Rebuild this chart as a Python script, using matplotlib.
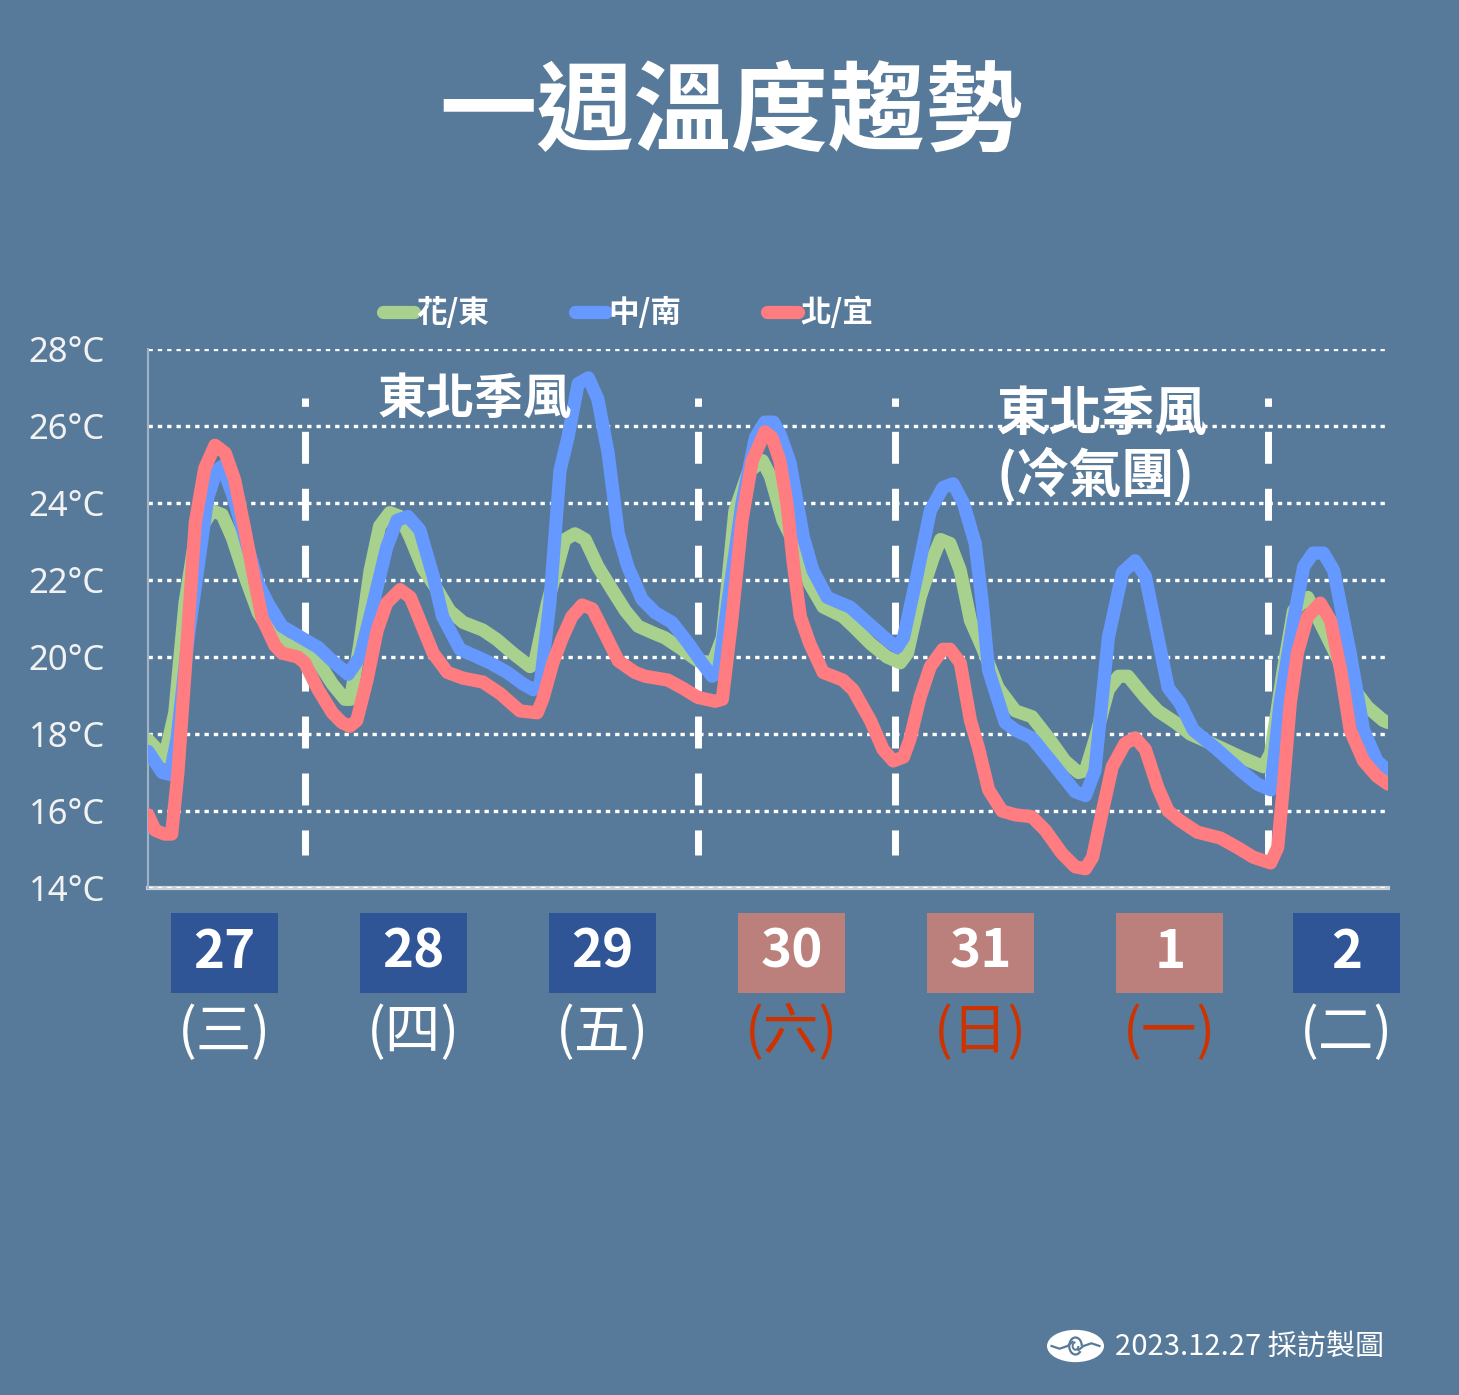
import numpy as np
import matplotlib
matplotlib.use("Agg")
import matplotlib.pyplot as plt
import matplotlib.transforms as mtransforms
from matplotlib.patches import Rectangle, Ellipse, Arc

plt.rcParams['font.family'] = ['Noto Sans CJK TC', 'DejaVu Sans']

# hours counted from 27th 00:00, temperatures in degC
green_pts = [(2.3, 17.85), (4.4, 17.4), (5.7, 18.55), (7.0, 21.4), (8.3, 23.1), (10.4, 23.8), (11.7, 23.7),
             (13.0, 23.1), (14.6, 22.1), (16.3, 21.15), (18.0, 20.6), (19.7, 20.35), (21.8, 20.2), (23.5, 20.0),
             (25.7, 19.3), (27.3, 18.9), (28.0, 18.9), (29.2, 20.35), (30.5, 22.25), (31.7, 23.4), (33.0, 23.75),
             (34.3, 23.65), (35.6, 23.1), (37.2, 22.3), (39.0, 21.75), (40.6, 21.2), (42.3, 20.9), (44.8, 20.7),
             (46.6, 20.45), (48.6, 20.1), (50.8, 19.75), (51.4, 19.85), (53.0, 21.4), (55.2, 23.05), (56.5, 23.2),
             (57.8, 23.05), (59.4, 22.35), (61.2, 21.75), (62.9, 21.2), (64.5, 20.8), (66.7, 20.6), (67.9, 20.5),
             (70.1, 20.2), (72.1, 19.9), (74.0, 19.85), (75.2, 20.5), (76.8, 23.8), (78.5, 24.8), (80.3, 25.1),
             (81.3, 24.7), (82.9, 23.55), (84.7, 22.8), (86.3, 21.9), (88.0, 21.3), (90.5, 21.05), (91.8, 20.8),
             (94.0, 20.35), (96.1, 20.0), (97.8, 19.85), (98.7, 20.1), (100.3, 21.55), (102.0, 22.6), (102.9, 23.05),
             (104.1, 22.95), (105.4, 22.25), (106.7, 20.95), (108.2, 20.25), (110.2, 19.2), (112.4, 18.6),
             (114.5, 18.45), (116.6, 17.9), (118.7, 17.3), (120.4, 17.0), (121.3, 17.05), (122.5, 17.85),
             (124.2, 19.15), (125.5, 19.5), (126.7, 19.5), (128.9, 18.95), (130.5, 18.6), (132.7, 18.3),
             (134.6, 18.0), (138.4, 17.65), (141.0, 17.4), (143.9, 17.15), (144.8, 17.5), (146.4, 19.65),
             (147.7, 21.2), (149.5, 21.55), (150.7, 21.05), (152.4, 20.35), (154.9, 19.3), (157.1, 18.7),
             (159.1, 18.35), (159.7, 18.3)]

blue_pts = [(2.3, 17.55), (4.1, 17.0), (5.1, 16.95), (6.0, 17.9), (7.4, 20.5), (8.9, 22.7), (9.9, 24.15),
            (11.0, 24.85), (11.7, 24.95), (13.0, 24.25), (14.6, 23.1), (16.3, 21.9), (17.5, 21.4), (19.3, 20.8),
            (22.2, 20.45), (23.9, 20.25), (25.7, 19.9), (27.7, 19.55), (29.2, 20.0), (30.9, 21.4), (32.6, 22.85),
            (33.9, 23.55), (35.3, 23.65), (36.8, 23.3), (38.5, 22.1), (39.7, 21.05), (41.9, 20.2), (44.1, 20.0),
            (45.7, 19.85), (47.9, 19.6), (49.9, 19.3), (51.2, 19.15), (52.1, 19.3), (53.3, 21.4), (54.6, 24.85),
            (55.6, 25.7), (56.9, 27.1), (58.2, 27.25), (59.4, 26.7), (60.7, 25.3), (62.0, 23.2), (63.2, 22.35),
            (65.0, 21.5), (66.7, 21.15), (68.8, 20.9), (70.9, 20.35), (72.6, 19.85), (73.9, 19.5), (74.7, 19.6),
            (75.9, 21.4), (77.7, 24.0), (79.4, 25.7), (80.6, 26.1), (81.7, 26.1), (82.5, 25.8), (83.8, 25.05),
            (85.5, 23.1), (86.7, 22.25), (88.5, 21.55), (90.2, 21.4), (91.4, 21.3), (93.6, 20.9), (96.1, 20.45),
            (97.4, 20.25), (98.2, 20.5), (99.9, 22.1), (101.6, 23.8), (103.2, 24.4), (104.5, 24.5), (105.8, 24.0),
            (107.3, 22.95), (108.2, 21.4), (109.0, 19.65), (111.1, 18.3), (112.4, 18.1), (114.5, 17.9),
            (117.1, 17.25), (120.0, 16.5), (121.3, 16.4), (122.5, 17.05), (124.2, 20.5), (126.0, 22.2),
            (127.6, 22.5), (128.9, 22.1), (130.5, 20.5), (131.8, 19.2), (133.3, 18.8), (135.0, 18.1),
            (138.0, 17.6), (141.0, 17.05), (143.1, 16.7), (144.8, 16.55), (146.0, 18.8), (147.7, 20.95),
            (149.0, 22.35), (150.2, 22.7), (151.5, 22.7), (152.8, 22.25), (154.9, 20.1), (156.6, 18.1),
            (158.3, 17.3), (159.7, 17.05)]

red_pts = [(2.3, 15.9), (3.2, 15.5), (4.4, 15.4), (5.3, 15.4), (6.1, 17.0), (7.0, 19.6), (8.3, 23.5),
           (9.5, 24.9), (10.8, 25.5), (12.1, 25.3), (13.3, 24.6), (14.6, 23.3), (15.9, 21.9), (16.8, 21.0),
           (18.4, 20.3), (19.3, 20.1), (21.3, 20.0), (22.2, 19.85), (23.9, 19.15), (25.7, 18.55), (26.9, 18.3),
           (27.9, 18.2), (28.8, 18.35), (30.1, 19.4), (31.4, 20.7), (32.6, 21.4), (34.3, 21.75), (35.6, 21.55),
           (36.8, 20.95), (38.5, 20.1), (40.3, 19.6), (42.3, 19.45), (44.8, 19.35), (47.0, 19.05), (49.5, 18.6),
           (51.7, 18.55), (52.4, 18.9), (53.7, 19.85), (54.9, 20.5), (56.1, 21.05), (57.4, 21.35), (58.7, 21.25),
           (60.3, 20.6), (62.0, 19.9), (64.1, 19.6), (65.4, 19.5), (68.3, 19.4), (70.1, 19.2), (72.1, 18.95),
           (74.3, 18.85), (75.2, 18.9), (76.4, 20.95), (77.7, 23.55), (79.0, 25.1), (80.3, 25.7), (80.6, 25.85),
           (81.5, 25.7), (82.5, 25.1), (83.4, 24.0), (84.2, 22.45), (85.1, 21.05), (86.3, 20.35), (88.0, 19.6),
           (90.5, 19.4), (91.8, 19.15), (94.0, 18.35), (95.6, 17.6), (96.9, 17.3), (98.2, 17.4), (99.0, 17.85),
           (100.3, 18.95), (101.6, 19.75), (103.2, 20.2), (104.1, 20.2), (105.4, 19.85), (106.7, 18.35),
           (107.7, 17.65), (109.0, 16.55), (110.7, 16.0), (112.4, 15.9), (114.5, 15.85), (116.2, 15.5),
           (118.3, 14.9), (120.0, 14.55), (121.3, 14.5), (122.2, 14.8), (123.4, 15.95), (124.7, 17.15),
           (126.3, 17.75), (127.6, 17.9), (128.9, 17.6), (130.5, 16.6), (131.8, 16.0), (133.3, 15.75),
           (135.5, 15.45), (138.4, 15.3), (140.6, 15.05), (142.6, 14.8), (144.8, 14.65), (145.7, 15.05),
           (146.4, 16.6), (147.3, 18.8), (148.2, 20.1), (149.5, 21.05), (151.1, 21.4), (152.4, 20.95),
           (153.7, 19.65), (154.9, 18.1), (156.6, 17.3), (158.3, 16.9), (159.7, 16.7)]

series_names = ["花/東", "中/南", "北/宜"]
series_colors = ["#a9d18e", "#6699ff", "#ff7c80"]

y_ticks = [14, 16, 18, 20, 22, 24, 26, 28]
y_labels = ["14°C", "16°C", "18°C", "20°C", "22°C", "24°C", "26°C", "28°C"]

# weather change markers (hours)
split_hours = [22.2, 72.1, 97.1, 144.5]

day_numbers = ["27", "28", "29", "30", "31", "1", "2"]
day_weekdays = ["(三)", "(四)", "(五)", "(六)", "(日)", "(一)", "(二)"]
day_weekend = [False, False, False, True, True, True, False]
day_centers = [12, 36, 60, 84, 108, 132, 154.4]

bg = "#587a9a"
W, H = 1459, 1395

fig = plt.figure(figsize=(W / 100, H / 100), dpi=100, facecolor=bg)
ax = fig.add_axes([148 / W, 1 - 888 / H, 1240 / W, 539 / H])
ax.set_facecolor(bg)
ax.set_xlim(2.3, 159.7)
ax.set_ylim(14, 28)

for t in y_ticks:
    ax.axhline(t, color="white", lw=2.4, linestyle=(0, (1.3, 1.5)), zorder=1)

for h in split_hours:
    ax.plot([h, h], [26.73, 14.86], color="white", lw=5,
            linestyle=(3.4, (4.6, 3.6)), solid_capstyle="butt", zorder=2)

for pts, name, col in zip([green_pts, blue_pts, red_pts], series_names, series_colors):
    xs, ys = np.array(pts).T
    ax.plot(xs, ys, color=col, lw=9.5, solid_joinstyle="round",
            solid_capstyle="round", label=name, zorder=3)

ax.set_xticks([])
ax.set_yticks(y_ticks)
ax.set_yticklabels(y_labels, family="Noto Sans", fontsize=25, color="#f2f2f2")
ax.tick_params(axis="y", length=0, pad=31)
for s in ["top", "right"]:
    ax.spines[s].set_visible(False)
ax.spines["left"].set_color("#9fb2c6")
ax.spines["left"].set_linewidth(1.5)
ax.spines["bottom"].set_color("#c9d1d9")
ax.spines["bottom"].set_linewidth(3)
ax.spines["bottom"].set_zorder(0)

ax.text(43.8, 26.68, "東北季風", color="white", fontsize=35, fontweight="bold",
        ha="center", va="center", zorder=4)
ax.text(110.0, 25.5, "東北季風\n(冷氣團)", color="white", fontsize=38, fontweight="bold",
        ha="left", va="center", linespacing=1.12, zorder=4)

leg = fig.legend(loc="center left", bbox_to_anchor=(383 / W, 1 - 313 / H), ncol=3,
                 frameon=False, fontsize=22, handlelength=1.0, handletextpad=0.1,
                 columnspacing=2.8, borderpad=0, borderaxespad=0)
for txt in leg.get_texts():
    txt.set_color("white")
    txt.set_fontweight("bold")

fig.text(0.501, 1 - 114 / H, "一週溫度趨勢", color="white", fontsize=70,
         fontweight="bold", ha="center", va="center")

# date boxes under the plot
trans = mtransforms.blended_transform_factory(ax.transData, fig.transFigure)
box_w = 13.6
for c, num, wd, we in zip(day_centers, day_numbers, day_weekdays, day_weekend):
    fc = "#bb7f7c" if we else "#2f5597"
    ax.add_patch(Rectangle((c - box_w / 2, 1 - 993 / H), box_w, 80 / H, transform=trans,
                           facecolor=fc, edgecolor="none", clip_on=False))
    ax.text(c, 1 - 952 / H, num, transform=trans, color="white", fontsize=38,
            fontweight="bold", ha="center", va="center")
    ax.text(c, 1 - 1033 / H, wd, transform=trans, color="#cc3300" if we else "white",
            fontsize=40, ha="center", va="center")

# footer
fig.text(1115 / W, 1 - 1347 / H, "2023.12.27 採訪製圖", color="white", fontsize=21,
         ha="left", va="center")
lax = fig.add_axes([1047 / W, 1 - 1363 / H, 57 / W, 34 / H])
lax.set_xlim(0, 1)
lax.set_ylim(0, 1)
lax.axis("off")
lax.add_patch(Ellipse((0.5, 0.5), 1.0, 0.95, facecolor="white", edgecolor="none"))
lax.plot([0.08, 0.22, 0.36, 0.45], [0.5, 0.42, 0.5, 0.62], color=bg, lw=1.6)
lax.plot([0.55, 0.64, 0.78, 0.92], [0.38, 0.5, 0.58, 0.5], color=bg, lw=1.6)
lax.add_patch(Arc((0.5, 0.5), 0.22, 0.5, theta1=0, theta2=300, color=bg, lw=1.6))
lax.add_patch(Arc((0.5, 0.5), 0.1, 0.22, theta1=90, theta2=360, color=bg, lw=1.4))

fig.savefig("out.png", dpi=100, facecolor=bg)
